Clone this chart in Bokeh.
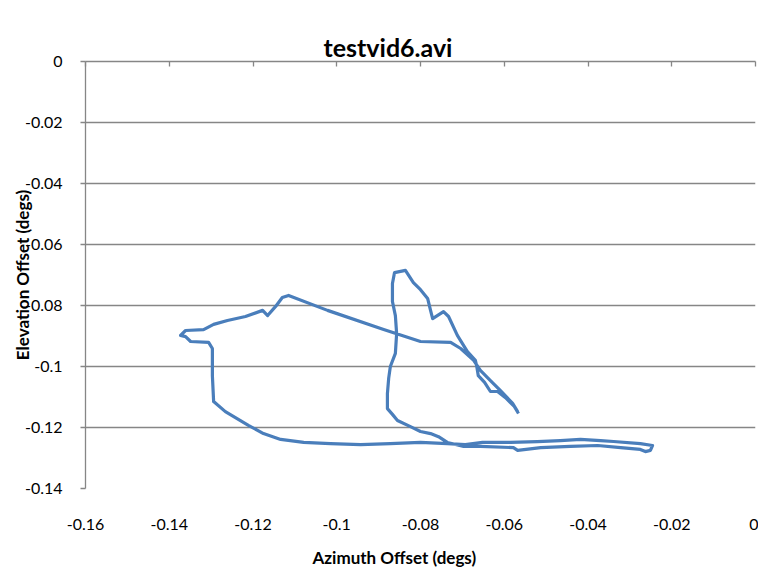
from bokeh.plotting import figure
from bokeh.models import Range1d, LinearAxis, FixedTicker, Title, ColumnDataSource
from bokeh.embed import file_html
from bokeh.resources import INLINE

# ---- data ----
azimuth = [-0.0566, -0.0576, -0.0597, -0.0616, -0.0633, -0.0647, -0.0662, -0.0666, -0.0669, -0.0688,
           -0.0712, -0.0733, -0.0745, -0.0771, -0.0776, -0.0783, -0.0800, -0.0817, -0.0836, -0.0862,
           -0.0867, -0.0867, -0.0860, -0.0857, -0.0860, -0.0872, -0.0876, -0.0879, -0.0879, -0.0867,
           -0.0855, -0.0824, -0.0800, -0.0776, -0.0757, -0.0736, -0.0697, -0.0657, -0.0578, -0.0568,
           -0.0513, -0.0442, -0.0377, -0.0322, -0.0275, -0.0263, -0.0251, -0.0246, -0.0275, -0.0339,
           -0.0370, -0.0418, -0.0466, -0.0521, -0.0585, -0.0652, -0.0693, -0.0736, -0.0800, -0.0872,
           -0.0943, -0.1015, -0.1079, -0.1134, -0.1175, -0.1211, -0.1239, -0.1266, -0.1294, -0.1297,
           -0.1297, -0.1306, -0.1349, -0.1361, -0.1373, -0.1361, -0.1318, -0.1294, -0.1261, -0.1218,
           -0.1177, -0.1165, -0.1146, -0.1130, -0.1115, -0.1022, -0.0888, -0.0800, -0.0728, -0.0704,
           -0.0673, -0.0657, -0.0633, -0.0609, -0.0580, -0.0568]
elevation = [-0.1154, -0.1131, -0.1102, -0.1082, -0.1082, -0.1052, -0.1030, -0.0997, -0.0980, -0.0951,
             -0.0898, -0.0836, -0.0820, -0.0843, -0.0816, -0.0777, -0.0748, -0.0725, -0.0685, -0.0692,
             -0.0728, -0.0787, -0.0833, -0.0892, -0.0957, -0.1000, -0.1039, -0.1089, -0.1138, -0.1157,
             -0.1177, -0.1197, -0.1213, -0.1220, -0.1230, -0.1249, -0.1262, -0.1262, -0.1266, -0.1275,
             -0.1266, -0.1262, -0.1259, -0.1266, -0.1272, -0.1279, -0.1275, -0.1259, -0.1253, -0.1246,
             -0.1243, -0.1239, -0.1243, -0.1246, -0.1249, -0.1249, -0.1256, -0.1253, -0.1249, -0.1253,
             -0.1256, -0.1253, -0.1249, -0.1239, -0.1220, -0.1193, -0.1170, -0.1148, -0.1115, -0.1030,
             -0.0941, -0.0921, -0.0918, -0.0902, -0.0898, -0.0882, -0.0879, -0.0862, -0.0849, -0.0836,
             -0.0816, -0.0833, -0.0803, -0.0774, -0.0767, -0.0816, -0.0879, -0.0918, -0.0921, -0.0941,
             -0.0980, -0.1013, -0.1046, -0.1079, -0.1121, -0.1148]

x_ticks = [-0.16, -0.14, -0.12, -0.1, -0.08, -0.06, -0.04, -0.02, 0.0]
x_tick_labels = ["-0.16", "-0.14", "-0.12", "-0.1", "-0.08", "-0.06", "-0.04", "-0.02", "0"]
y_ticks = [-0.14, -0.12, -0.1, -0.08, -0.06, -0.04, -0.02, 0.0]
y_tick_labels = ["-0.14", "-0.12", "-0.1", "-0.08", "-0.06", "-0.04", "-0.02", "0"]

title_text = "testvid6.avi"
x_title = "Azimuth Offset (degs)"
y_title = "Elevation Offset (degs)"

FONT = "Lato"
GRAY = "#868686"

p = figure(frame_width=670, frame_height=427,
           x_range=Range1d(-0.16, 0), y_range=Range1d(-0.14, 0),
           output_backend="svg", toolbar_location=None,
           min_border_left=85, min_border_right=3, min_border_top=61, min_border_bottom=86,
           background_fill_color="white", border_fill_color="white")
p.outline_line_color = None

# chart title
p.title.text = title_text
p.title.align = "left"
p.title.offset = 238
p.title.standoff = 0
p.title.text_font = FONT
p.title.text_font_style = "bold"
p.title.text_font_size = "25px"
p.title.text_color = "black"

# bottom axis: labels only
xa = p.xaxis[0]
xa.ticker = FixedTicker(ticks=x_ticks)
xa.major_label_overrides = dict(zip(x_ticks, x_tick_labels))
xa.axis_line_color = None
xa.major_tick_line_color = None
xa.minor_tick_line_color = None
xa.major_label_standoff = 24
xa.major_label_text_font = FONT
xa.major_label_text_font_size = "16px"
xa.major_label_text_color = "black"

# x axis title (below the tick labels)
p.add_layout(Title(text=x_title, align="left", offset=227, standoff=25,
                   text_font=FONT, text_font_style="bold", text_font_size="17px",
                   text_color="black"), "below")

# top axis line (crosses at y = 0) with inward ticks
ta = LinearAxis(ticker=FixedTicker(ticks=x_ticks))
ta.major_label_overrides = {t: "" for t in x_ticks}
ta.major_label_text_font_size = "1px"
ta.major_label_standoff = 0
ta.axis_line_color = GRAY
ta.axis_line_width = 1.3
ta.major_tick_line_color = GRAY
ta.major_tick_line_width = 1.3
ta.major_tick_in = 5
ta.major_tick_out = 0
ta.minor_tick_line_color = None
p.add_layout(ta, "above")

# left axis
ya = p.yaxis[0]
ya.ticker = FixedTicker(ticks=y_ticks)
ya.major_label_overrides = dict(zip(y_ticks, y_tick_labels))
ya.axis_line_color = GRAY
ya.axis_line_width = 1.3
ya.major_tick_line_color = GRAY
ya.major_tick_line_width = 1.3
ya.major_tick_in = 0
ya.major_tick_out = 5
ya.minor_tick_line_color = None
ya.major_label_standoff = 18
ya.major_label_text_font = FONT
ya.major_label_text_font_size = "16px"
ya.major_label_text_color = "black"
ya.axis_label = y_title
ya.axis_label_standoff = -11
ya.axis_label_text_font = FONT
ya.axis_label_text_font_style = "bold"
ya.axis_label_text_font_size = "17px"
ya.axis_label_text_color = "black"

p.xgrid.visible = False
p.ygrid.ticker = FixedTicker(ticks=y_ticks)
p.ygrid.grid_line_color = GRAY
p.ygrid.grid_line_width = 1.3

src = ColumnDataSource(dict(x=azimuth, y=elevation))
p.line("x", "y", source=src, line_color="#4A7EBB", line_width=3.2, line_join="round")

open("out.html", "w").write(file_html(p, INLINE))
